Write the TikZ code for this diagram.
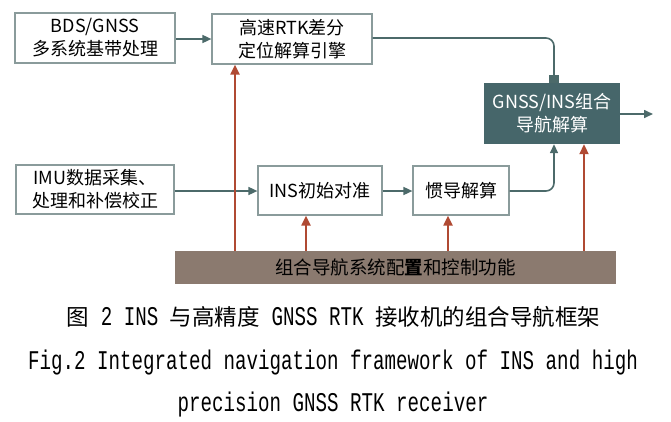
\documentclass[tikz,border=0pt]{standalone}
\usepackage{fontspec}
\usetikzlibrary{arrows.meta,calc}
\newfontfamily\cjk{Noto Sans CJK SC}
\newfontfamily\capfont[FakeStretch=0.71]{Liberation Mono}
\definecolor{boxline}{HTML}{8A9B9B}
\definecolor{tealline}{HTML}{4C6A6A}
\definecolor{tealfill}{HTML}{46666A}
\definecolor{redline}{HTML}{B04A33}
\definecolor{barfill}{HTML}{8B7A6F}
\tikzset{
  wbox/.style={draw=boxline, line width=1.2pt, fill=white, align=center, inner sep=0pt,
    font=\cjk\fontsize{18}{23}\selectfont, text=black},
  tarrow/.style={draw=tealline, line width=1.6pt, -{Triangle[length=9pt,width=8pt]}},
  rarrow/.style={draw=redline, line width=2pt, -{Triangle[length=10pt,width=9pt]}},
  capcn/.style={font=\cjk\fontsize{22.5}{24}\selectfont, inner sep=0pt},
  capen/.style={inner sep=0pt},
}
\newcommand{\lat}[1]{{\capfont\fontsize{27}{28}\selectfont #1}}
\begin{document}
\begin{tikzpicture}[x=1pt,y=-1pt]
\useasboundingbox (0,0) rectangle (671,421);
% boxes
\node[wbox, minimum width=160pt, minimum height=50pt] (bds) at (95,38) {BDS/GNSS\\多系统基带处理};
\node[wbox, minimum width=160pt, minimum height=50pt] (rtk) at (292,39) {高速RTK差分\\定位解算引擎};
\node[wbox, minimum width=158pt, minimum height=49pt] (imu) at (95,189.5) {IMU数据采集、\\处理和补偿校正};
\node[wbox, minimum width=124pt, minimum height=49pt] (ins) at (320,190.5) {INS初始对准};
\node[wbox, minimum width=96pt, minimum height=49pt] (gdj) at (461,190.5) {惯导解算};
\node[fill=tealfill, minimum width=136pt, minimum height=61pt, inner sep=0pt, align=center,
  font=\cjk\fontsize{18}{23}\selectfont, text=white] (gi) at (552,113.5) {GNSS/INS组合\\导航解算};
\node[fill=barfill, minimum width=441pt, minimum height=33pt, inner sep=0pt,
  font=\cjk\fontsize{18.5}{20}\selectfont, text=black] (bar) at (395.5,267.5) {组合导航系统配\textbf{置}和控制功能};
\coordinate (out) at (653,114);
% teal connectors
\draw[tarrow] (bds.east |- 0,39) -- (rtk.west |- 0,39);
\draw[draw=tealline, line width=1.6pt, rounded corners=8pt, -{Square[length=8pt,width=10pt]}]
  (rtk.east |- 0,38) -- (554,38) -- (gi.north -| 554,0);
\draw[tarrow] (gi.east |- out) -- (out);
\draw[tarrow] (imu.east |- 0,191) -- (ins.west |- 0,191);
\draw[tarrow] (ins.east |- 0,191) -- (gdj.west |- 0,191);
\draw[tealline, line width=1.6pt, rounded corners=8pt] (gdj.east |- 0,191) -- (554,191) -- (554,160);
\draw[tarrow] (554,165) -- (gi.south -| 554,0);
% red connectors
\draw[rarrow] (bar.north -| 235,0) -- (rtk.south -| 235,0);
\draw[rarrow] (bar.north -| 306,0) -- (ins.south -| 306,0);
\draw[rarrow] (bar.north -| 448,0) -- (gdj.south -| 448,0);
\draw[rarrow] (bar.north -| 584,0) -- (gi.south -| 584,0);
% caption
\node[capcn] (cap1) at (333.5,317)
  {图\lat{ 2 INS }与高精度\lat{ GNSS RTK }接收机的组合导航框架};
\node[capen] (cap2) at (333,363) {\lat{Fig.2 Integrated navigation framework of INS and high}};
\node[capen] (cap3) at (333,405) {\lat{precision GNSS RTK receiver}};
\end{tikzpicture}
\end{document}
